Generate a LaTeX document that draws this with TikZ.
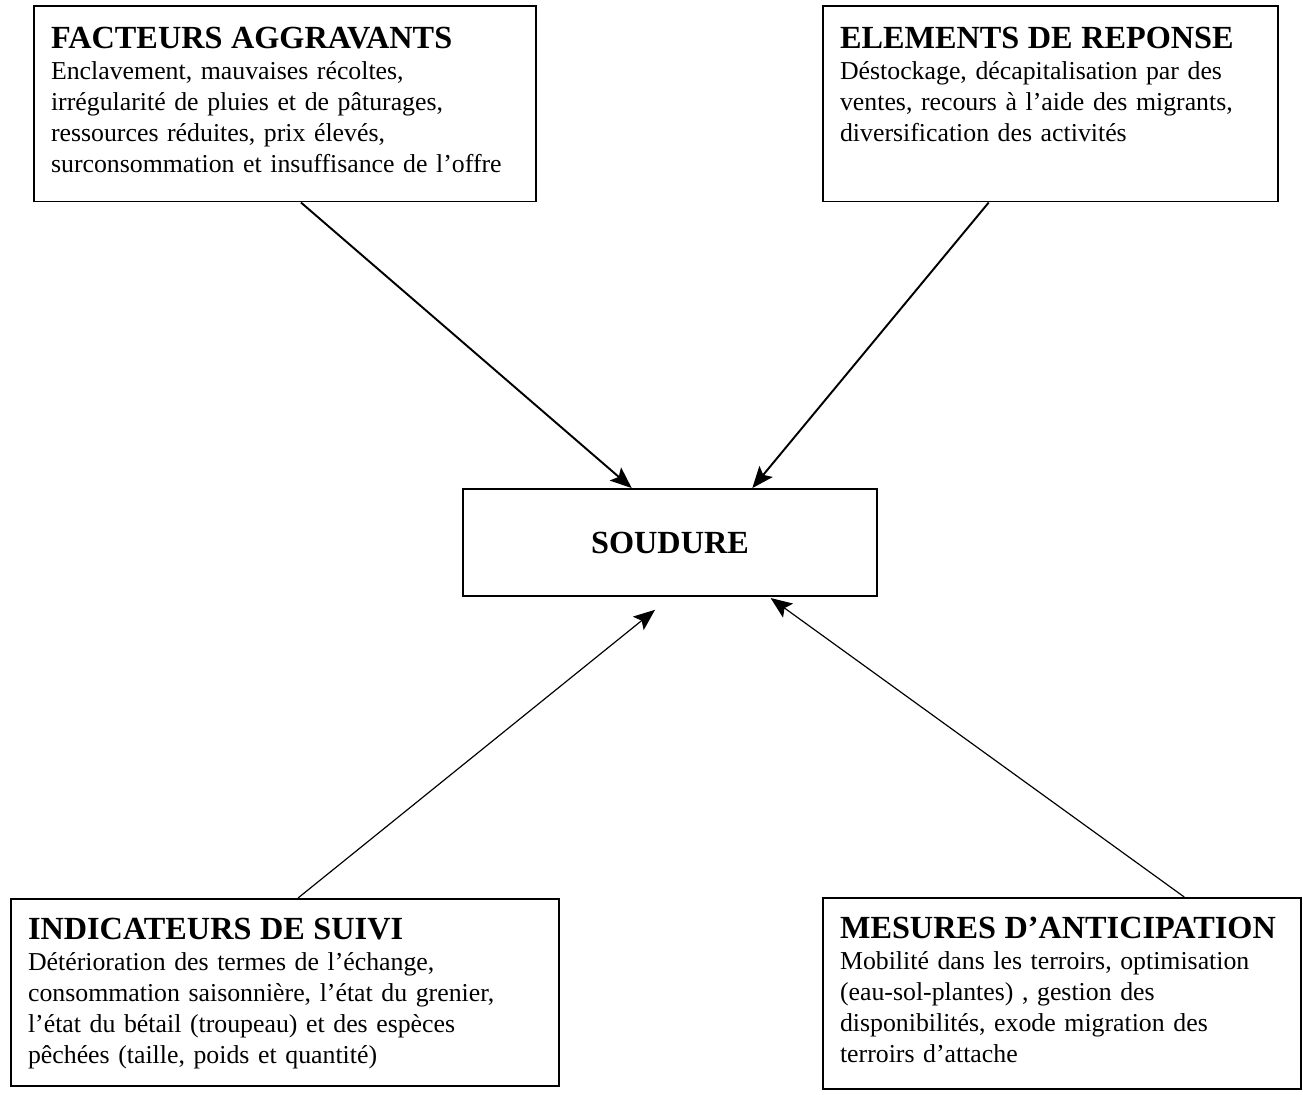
\documentclass[tikz,border=0pt]{standalone}
\usepackage{fontspec}
\setmainfont{Liberation Serif}
\usepackage{tikz}
\usetikzlibrary{calc,arrows.meta}

\tikzset{
  boite/.style={draw, line width=0.8pt, rectangle, anchor=north west, align=left,
    inner xsep=8pt, inner ysep=9pt, font=\fontsize{12}{14.4}\selectfont},
  fleche/.style={-{Stealth[length=10pt,width=8pt,inset=2pt]}},
}
\newcommand{\titre}[1]{{\fontsize{15}{15.5}\selectfont\bfseries #1}}

\begin{document}
\begin{tikzpicture}[x=0.465pt, y=-0.465pt]
      \useasboundingbox (0,0) rectangle (1303,1095);
      \node (fa) at (33,5) [boite, inner ysep=10pt, text width=217.4pt, text depth=61.1pt]
        {\titre{FACTEURS AGGRAVANTS}\\
         Enclavement, mauvaises récoltes,\\
         irrégularité de pluies et de pâturages,\\
         ressources réduites, prix élevés,\\
         surconsommation et insuffisance de l’offre};
      \node (er) at (822,5) [boite, inner ysep=10pt, text width=195.6pt, text depth=61.1pt]
        {\titre{ELEMENTS DE REPONSE}\\
         Déstockage, décapitalisation par des\\
         ventes, recours à l’aide des migrants,\\
         diversification des activités};
      \node (sd) at (670,542.5) [draw, line width=0.8pt, rectangle, minimum width=192.5pt,
        minimum height=49.8pt] {\titre{SOUDURE}};
      \node (is) at (10,898) [boite, text width=238.8pt, text depth=59pt]
        {\titre{INDICATEURS DE SUIVI}\\
         Détérioration des termes de l’échange,\\
         consommation saisonnière, l’état du grenier,\\
         l’état du bétail (troupeau) et des espèces\\
         pêchées (taille, poids et quantité)};
      \node (ma) at (822,897) [boite, text width=206.3pt, text depth=60.8pt]
        {\titre{MESURES D’ANTICIPATION}\\
         Mobilité dans les terroirs, optimisation\\
         (eau-sol-plantes) , gestion des\\
         disponibilités, exode migration des\\
         terroirs d’attache};
      \draw[fleche, line width=0.9pt]
        ($(fa.south west)!0.532!(fa.south east)$) -- ($(sd.north west)!0.408!(sd.north east)$);
      \draw[fleche, line width=0.9pt]
        ($(er.south west)!0.365!(er.south east)$) -- ($(sd.north west)!0.698!(sd.north east)$);
      \draw[fleche, line width=0.55pt]
        ($(is.north west)!0.524!(is.north east)$) -- ($(sd.south west)!0.464!(sd.south east)+(0,-6pt)$);
      \draw[fleche, line width=0.55pt]
        ($(ma.north west)!0.755!(ma.north east)$) -- ($(sd.south west)!0.742!(sd.south east)+(0,-0.5pt)$);
\end{tikzpicture}
\end{document}
